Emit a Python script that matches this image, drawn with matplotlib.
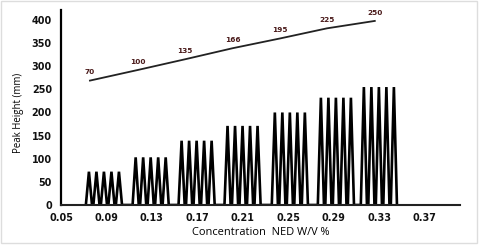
import numpy as np
import matplotlib
matplotlib.use('Agg')
from matplotlib import pyplot as plt
from matplotlib.patches import Rectangle

# middle peak of each group of five injections
group_conc = [0.0878, 0.1289, 0.1693, 0.2097, 0.2513, 0.2918, 0.3296]
peak_height = [72, 103, 139, 171, 200, 232, 255]
n_inject = 5
peak_step = 0.0066
half_base = 0.0027

# calibration line and its labels
line_x = [0.0755, 0.1177, 0.1590, 0.2010, 0.2425, 0.2840, 0.3260]
line_y = [269, 292, 315, 339, 360, 382, 398]
line_labels = ['70', '100', '135', '166', '195', '225', '250']

xticks = [0.05, 0.09, 0.13, 0.17, 0.21, 0.25, 0.29, 0.33, 0.37]
yticks = [0, 50, 100, 150, 200, 250, 300, 350, 400]

fig = plt.figure(figsize=(4.8, 2.46), dpi=100)
ax = fig.add_axes([0.127, 0.1667, 0.831, 0.7926])

# zigzag trace for the peaks
xs, ys = [], []
for c, h in zip(group_conc, peak_height):
    for k in range(n_inject):
        p = c + (k - 2) * peak_step
        xs += [p - half_base, p, p + half_base]
        ys += [0, h, 0]
ax.plot(xs, ys, color='black', lw=1.9, solid_joinstyle='miter')

ax.plot(line_x, line_y, color='#222222', lw=1.3)
for x, y, t in zip(line_x, line_y, line_labels):
    ax.text(x, y + 11, t, ha='center', va='bottom', fontsize=5.3,
            fontweight='bold', color='#4a1a1a')

ax.set_xlim(0.05, 0.4008)
ax.set_ylim(0, 421.6)
ax.set_xticks(xticks)
ax.set_xticklabels(['%.2f' % v for v in xticks])
ax.set_yticks(yticks)
ax.tick_params(length=0, labelsize=6.9, colors='#111111')
ax.tick_params(axis='y', pad=6.5)
ax.tick_params(axis='x', pad=5.5)
for lab in ax.get_xticklabels() + ax.get_yticklabels():
    lab.set_fontweight('bold')

for s in ['top', 'right']:
    ax.spines[s].set_visible(False)
ax.spines['left'].set_linewidth(1.6)
ax.spines['bottom'].set_linewidth(1.5)
ax.spines['bottom'].set_color('#222222')

ax.set_ylabel('Peak Height (mm)', fontsize=6.9, family='Open Sans')
ax.yaxis.set_label_coords(-0.093, 0.47)
ax.set_xlabel('Concentration  NED W/V %', fontsize=7.9, family='Open Sans', labelpad=3)

fig.patches.append(Rectangle((0.002, 0.012), 0.992, 0.982, transform=fig.transFigure,
                             fill=False, edgecolor='#dddddd', lw=1))

fig.savefig('out.png', dpi=100)
